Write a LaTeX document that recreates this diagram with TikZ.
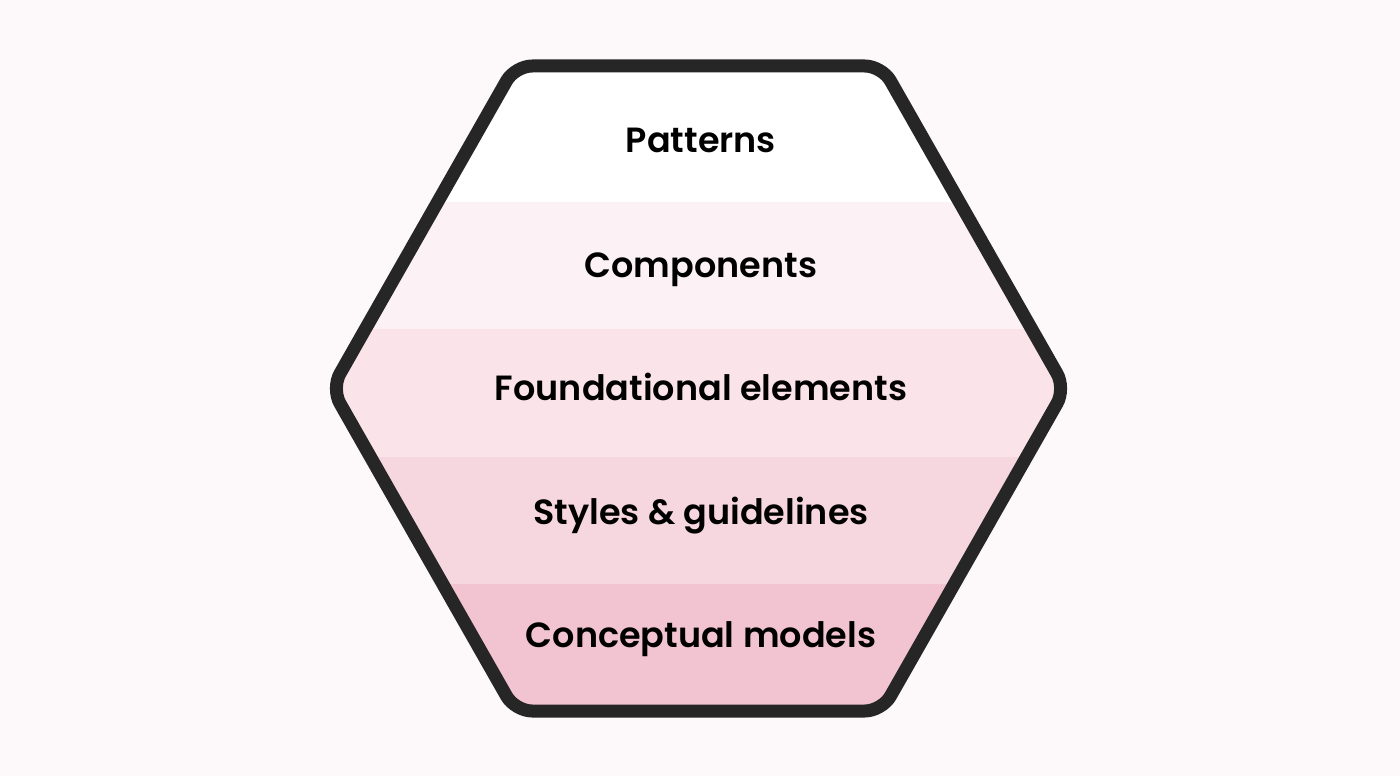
\documentclass[tikz,border=0pt]{standalone}
\usepackage{fontspec}
\setmainfont{Poppins}[BoldFont={Poppins SemiBold}, Ligatures=NoCommon]
\definecolor{bgc}{HTML}{FDF9FA}
\definecolor{bandA}{HTML}{FFFFFF}
\definecolor{bandB}{HTML}{FCF2F5}
\definecolor{bandC}{HTML}{FAE4EA}
\definecolor{bandD}{HTML}{F6D6DF}
\definecolor{bandE}{HTML}{F2C3D1}
\definecolor{strokec}{HTML}{262626}
\tikzset{
  label/.style={font=\fontsize{35}{40}\selectfont\bfseries, text=black, anchor=base, inner sep=0pt},
  hexline/.style={draw=strokec, line width=13pt, rounded corners=17pt, line join=round}
}
\begin{document}
\begin{tikzpicture}[x=1pt,y=-1pt]
\useasboundingbox (0,0) rectangle (1400,776);
\fill[bgc] (0,0) rectangle (1400,776);
\def\hexpath{(515,66) -- (882,66) -- (1065.5,388.5) -- (882,711) -- (515,711) -- (331.5,388.5) -- cycle}
\begin{scope}
  \clip[rounded corners=17pt] \hexpath;
  \fill[bandA] (300,40) rectangle (1100,202);
  \fill[bandB] (300,202) rectangle (1100,329);
  \fill[bandC] (300,329) rectangle (1100,457);
  \fill[bandD] (300,457) rectangle (1100,584);
  \fill[bandE] (300,584) rectangle (1100,740);
\end{scope}
\path[hexline] \hexpath;
\node[label] (p) at (701,152) {Patterns};
\node[label] (c) at (701,277) {Components};
\node[label] (f) at (701,400) {Foundational elements};
\node[label] (s) at (701,524) {Styles \& guidelines};
\node[label] (m) at (701,647) {Conceptual models};
\end{tikzpicture}
\end{document}
